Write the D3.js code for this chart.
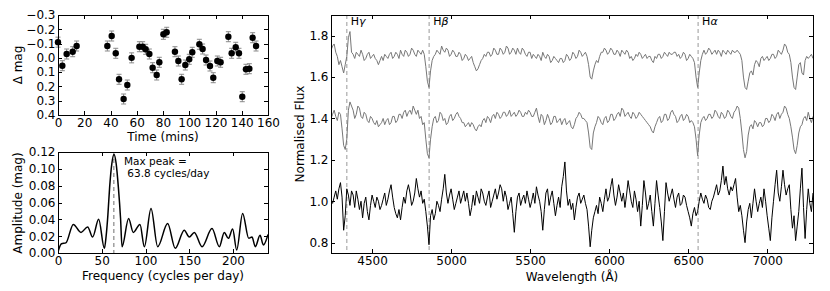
<!DOCTYPE html>
<html><head><meta charset="utf-8">
<script src="https://cdn.jsdelivr.net/npm/d3@7"></script>
<style>
body{margin:0;background:#fff}
svg{display:block}
text{font-family:"DejaVu Sans",sans-serif}
</style>
</head><body><svg id="c" width="830" height="291"></svg>
<script>
// ---------- Light curve ----------
const timeMins = [0, 3.3, 6.6, 11.2, 14.2, 37.6, 40.9, 44, 46.5, 50, 52.8, 56.1, 62, 64.5, 66.8, 69.6, 72.1, 75.2, 77.2, 80.3, 82.8, 89.1, 91.7, 94.2, 97, 100, 102.3, 107.7, 110.2, 112.8, 115.8, 118.3, 121.4, 123.9, 129.8, 132.3, 135.4, 137.9, 140.4, 143.2, 145.8, 148.3, 150.9];
const deltaMag = [-0.11, 0.055, -0.027, -0.043, -0.083, -0.083, -0.153, -0.032, 0.15, 0.288, 0.19, 0.0, -0.078, -0.078, -0.06, -0.027, 0.069, 0.12, 0.031, -0.165, -0.179, -0.043, 0.022, 0.15, 0.05, 0.01, -0.039, -0.095, -0.062, 0.015, 0.057, 0.139, 0.022, 0.031, -0.148, -0.032, -0.074, -0.032, 0.272, 0.08, 0.076, -0.141, -0.083];
const magErr = 0.035;
const timeTicks = [0, 20, 40, 60, 80, 100, 120, 140, 160];
const magTicks = [-0.3, -0.2, -0.1, 0.0, 0.1, 0.2, 0.3, 0.4];

// ---------- Periodogram ----------
const freq = [0, 4, 9, 17.5, 26.3, 33.9, 39.6, 46.5, 53, 55, 57, 59, 61.5, 64, 66.5, 69, 71.5, 73.2, 80.7, 86, 93.7, 98.7, 106.3, 113.9, 125.3, 134, 144.3, 150, 155.8, 164.6, 176, 184.4, 190, 194.7, 199.6, 204.2, 211, 218, 221.7, 225.5, 230.9, 234.7, 240];
const ampl = [0.0015, 0.011, 0.012, 0.034, 0.0245, 0.031, 0.019, 0.040, 0.0055, 0.02, 0.045, 0.078, 0.106, 0.117, 0.106, 0.078, 0.041, 0.0075, 0.041, 0.0245, 0.034, 0.0075, 0.053, 0.0075, 0.035, 0.0055, 0.027, 0.019, 0.0245, 0.0075, 0.029, 0.0075, 0.0245, 0.0174, 0.0285, 0.0036, 0.047, 0.0174, 0.019, 0.0075, 0.021, 0.0095, 0.022];
const maxPeak = 63.8;
const freqTicks = [0, 50, 100, 150, 200];
const ampTicks = [0, 0.02, 0.04, 0.06, 0.08, 0.10, 0.12];

// ---------- Spectra (sampled every 10 Å from 4240 Å) ----------
const wavelength = d3.range(4240, 7291, 10);
const fluxTop = [1.73,1.75,1.76,1.72,1.70,1.66,1.68,1.65,1.62,1.66,1.70,1.79,1.82,1.72,1.71,1.69,1.72,1.71,1.70,1.73,1.71,1.68,1.69,1.71,1.72,1.69,1.70,1.71,1.69,1.68,1.66,1.68,1.70,1.68,1.71,1.70,1.69,1.71,1.72,1.69,1.70,1.72,1.71,1.69,1.73,1.71,1.70,1.73,1.72,1.70,1.71,1.74,1.73,1.71,1.70,1.73,1.72,1.71,1.73,1.71,1.65,1.58,1.55,1.63,1.68,1.70,1.71,1.73,1.72,1.71,1.75,1.73,1.72,1.74,1.73,1.70,1.71,1.73,1.72,1.70,1.70,1.72,1.71,1.68,1.69,1.71,1.70,1.68,1.69,1.70,1.67,1.65,1.63,1.64,1.66,1.68,1.69,1.71,1.70,1.72,1.72,1.70,1.71,1.74,1.73,1.71,1.71,1.74,1.73,1.71,1.72,1.75,1.74,1.71,1.72,1.74,1.73,1.71,1.74,1.72,1.71,1.74,1.73,1.71,1.70,1.72,1.72,1.69,1.71,1.70,1.69,1.71,1.70,1.68,1.72,1.70,1.69,1.71,1.70,1.67,1.68,1.70,1.69,1.68,1.67,1.69,1.69,1.67,1.68,1.71,1.70,1.68,1.69,1.72,1.71,1.69,1.70,1.73,1.72,1.70,1.71,1.72,1.70,1.66,1.60,1.59,1.63,1.66,1.68,1.67,1.70,1.72,1.72,1.74,1.73,1.71,1.72,1.74,1.73,1.71,1.71,1.73,1.72,1.70,1.73,1.72,1.71,1.73,1.72,1.69,1.70,1.68,1.69,1.71,1.70,1.72,1.71,1.69,1.70,1.71,1.69,1.70,1.70,1.68,1.67,1.70,1.69,1.71,1.71,1.69,1.70,1.72,1.71,1.70,1.72,1.71,1.71,1.72,1.72,1.70,1.71,1.69,1.70,1.72,1.71,1.68,1.69,1.71,1.70,1.69,1.67,1.60,1.55,1.62,1.68,1.71,1.73,1.71,1.72,1.74,1.73,1.71,1.72,1.73,1.71,1.73,1.72,1.70,1.73,1.72,1.71,1.73,1.72,1.71,1.73,1.72,1.72,1.73,1.72,1.71,1.68,1.60,1.55,1.54,1.58,1.62,1.63,1.61,1.66,1.68,1.67,1.65,1.69,1.70,1.68,1.69,1.70,1.68,1.69,1.71,1.71,1.69,1.70,1.73,1.72,1.71,1.73,1.76,1.75,1.72,1.71,1.67,1.60,1.55,1.54,1.60,1.66,1.67,1.62,1.61,1.68,1.70,1.69,1.70,1.71,1.69];
const fluxMid = [1.40,1.42,1.44,1.41,1.39,1.43,1.42,1.35,1.27,1.25,1.30,1.44,1.48,1.46,1.44,1.40,1.42,1.46,1.45,1.41,1.40,1.43,1.42,1.39,1.38,1.41,1.40,1.38,1.37,1.39,1.36,1.37,1.38,1.40,1.37,1.39,1.40,1.37,1.38,1.41,1.41,1.38,1.39,1.42,1.42,1.40,1.43,1.44,1.41,1.43,1.44,1.42,1.46,1.44,1.42,1.44,1.40,1.41,1.37,1.38,1.30,1.23,1.21,1.30,1.36,1.40,1.41,1.38,1.39,1.43,1.42,1.39,1.40,1.37,1.38,1.41,1.42,1.39,1.40,1.42,1.43,1.41,1.40,1.38,1.38,1.36,1.37,1.38,1.36,1.38,1.37,1.35,1.34,1.36,1.37,1.36,1.39,1.40,1.38,1.41,1.40,1.38,1.41,1.42,1.40,1.43,1.42,1.40,1.41,1.43,1.43,1.41,1.42,1.44,1.41,1.42,1.43,1.41,1.42,1.44,1.43,1.41,1.41,1.43,1.42,1.44,1.43,1.41,1.41,1.43,1.45,1.41,1.38,1.42,1.41,1.37,1.39,1.42,1.40,1.37,1.38,1.41,1.41,1.38,1.39,1.40,1.37,1.39,1.40,1.37,1.38,1.39,1.36,1.35,1.37,1.40,1.41,1.43,1.42,1.40,1.40,1.39,1.38,1.33,1.26,1.25,1.33,1.36,1.38,1.41,1.40,1.38,1.37,1.40,1.41,1.38,1.39,1.42,1.42,1.39,1.40,1.42,1.43,1.41,1.45,1.44,1.41,1.42,1.43,1.41,1.40,1.43,1.42,1.40,1.41,1.43,1.42,1.41,1.40,1.39,1.38,1.37,1.36,1.34,1.33,1.36,1.38,1.40,1.41,1.38,1.39,1.42,1.42,1.39,1.40,1.43,1.44,1.42,1.41,1.38,1.39,1.41,1.42,1.39,1.40,1.42,1.41,1.38,1.39,1.38,1.36,1.30,1.22,1.32,1.38,1.40,1.41,1.39,1.40,1.42,1.42,1.40,1.41,1.44,1.43,1.41,1.40,1.43,1.42,1.40,1.41,1.44,1.43,1.41,1.40,1.43,1.44,1.46,1.45,1.40,1.33,1.25,1.21,1.24,1.32,1.36,1.37,1.35,1.39,1.38,1.36,1.38,1.38,1.36,1.37,1.40,1.40,1.38,1.39,1.42,1.41,1.39,1.42,1.43,1.40,1.42,1.43,1.46,1.45,1.42,1.40,1.36,1.31,1.25,1.23,1.27,1.33,1.36,1.37,1.40,1.41,1.39,1.43,1.40,1.38,1.41];
const fluxBottom = [1.00,0.99,1.02,1.05,1.01,1.06,1.09,1.02,0.86,0.93,1.06,1.03,0.98,1.05,1.03,0.97,1.05,1.01,0.96,1.00,0.92,0.99,1.02,0.95,0.91,0.98,1.03,1.00,0.97,1.02,1.00,0.96,0.98,1.01,1.04,0.98,1.01,1.05,1.08,1.02,0.97,0.94,0.92,0.96,0.91,0.97,1.02,0.99,1.05,1.08,1.04,0.98,1.00,1.04,1.11,1.06,1.02,1.05,0.99,1.01,0.95,0.88,0.79,0.93,0.96,0.91,0.94,1.00,0.98,0.95,1.01,1.06,1.13,1.04,0.99,1.03,1.06,1.01,0.96,0.99,1.02,1.05,0.99,1.02,1.05,1.00,1.04,0.99,0.93,0.97,1.03,0.98,1.05,1.02,0.99,1.06,1.04,1.00,0.98,1.02,1.05,0.97,1.00,1.03,1.06,1.01,1.04,1.08,1.06,1.00,1.05,1.02,0.96,0.99,1.02,0.94,0.85,0.95,1.02,1.04,0.98,1.01,1.03,0.99,1.05,1.01,0.97,1.00,1.04,0.99,1.07,1.03,1.00,0.95,0.86,0.96,1.04,1.06,0.98,1.02,1.05,0.99,0.93,0.98,1.02,0.97,1.07,1.12,1.19,1.05,0.98,1.01,0.96,0.99,0.91,0.97,1.02,1.04,0.99,1.01,1.03,0.99,0.96,0.88,0.78,0.86,0.92,0.95,0.98,0.94,1.02,0.99,0.95,1.01,1.06,1.00,1.02,1.07,1.11,1.03,0.98,1.02,1.08,1.04,1.00,1.04,0.97,1.03,1.10,1.05,1.00,0.97,1.05,1.01,0.95,1.00,0.88,0.98,1.10,1.04,0.96,0.99,1.03,0.95,0.88,0.99,1.10,1.03,0.97,0.90,0.81,0.95,1.09,1.04,1.00,1.03,1.06,1.01,0.97,1.02,1.04,0.98,0.99,1.03,1.02,0.98,0.95,0.92,0.88,0.94,0.97,0.93,0.95,1.00,1.04,1.01,0.99,1.03,1.01,0.97,0.96,1.00,1.02,1.05,1.08,1.03,1.05,1.10,1.17,1.08,1.12,1.06,1.03,1.07,1.05,1.08,1.11,1.02,0.95,0.98,0.93,0.86,0.80,0.90,0.96,0.99,0.92,0.99,1.06,1.00,0.95,0.99,1.02,0.97,1.06,1.00,0.93,0.87,0.81,0.92,1.00,1.08,1.15,1.04,1.00,1.07,1.15,1.08,1.03,1.06,1.08,0.96,0.87,0.93,0.81,0.88,0.95,1.06,1.16,0.97,0.82,0.96,1.06,0.99,0.95,1.04];
const balmerNames = ["γ", "β", "α"];
const balmerWave = [4340, 4861, 6563];
const waveTicks = [4500, 5000, 5500, 6000, 6500, 7000];
const fluxTicks = [0.8, 1.0, 1.2, 1.4, 1.6, 1.8];

// ---------- drawing ----------
const svg = d3.select("#c");
const FS = 12;

function frame(box, x, y, xTicks, yTicks, xFmt, yFmt) {
  const g = svg.append("g");
  const style = sel => {
    sel.select(".domain").remove();
    sel.attr("font-size", FS).attr("font-family", "DejaVu Sans, sans-serif");
    sel.selectAll("line").attr("stroke", "#000").attr("shape-rendering", "crispEdges");
    sel.selectAll("text").attr("fill", "#000");
  };
  g.append("g").attr("transform", `translate(0,${box.b})`)
    .call(d3.axisBottom(x).tickValues(xTicks).tickFormat(xFmt).tickSizeInner(-4).tickSizeOuter(0).tickPadding(3.5)).call(style);
  g.append("g").attr("transform", `translate(0,${box.t})`)
    .call(d3.axisTop(x).tickValues(xTicks).tickFormat("").tickSizeInner(-4).tickSizeOuter(0)).call(style);
  g.append("g").attr("transform", `translate(${box.l},0)`)
    .call(d3.axisLeft(y).tickValues(yTicks).tickFormat(yFmt).tickSizeInner(-4).tickSizeOuter(0).tickPadding(2.5)).call(style);
  g.append("g").attr("transform", `translate(${box.r},0)`)
    .call(d3.axisRight(y).tickValues(yTicks).tickFormat("").tickSizeInner(-4).tickSizeOuter(0)).call(style);
  g.append("rect").attr("x", box.l).attr("y", box.t).attr("width", box.r - box.l).attr("height", box.b - box.t)
    .attr("fill", "none").attr("stroke", "#000").attr("stroke-width", 1).attr("shape-rendering", "crispEdges");
  return g;
}
function clip(id, box) {
  svg.append("clipPath").attr("id", id).append("rect")
    .attr("x", box.l).attr("y", box.t).attr("width", box.r - box.l).attr("height", box.b - box.t);
}
function ylabel(txt, x, y) {
  svg.append("text").attr("transform", `translate(${x},${y}) rotate(-90)`).attr("text-anchor", "middle")
    .attr("font-size", FS).text(txt);
}
function xlabel(txt, x, y) {
  svg.append("text").attr("x", x).attr("y", y).attr("text-anchor", "middle").attr("font-size", FS).text(txt);
}

// Panel 1: light curve
const b1 = {l: 58, r: 268, t: 15, b: 115};
const x1 = d3.scaleLinear().domain([0, 160]).range([b1.l, b1.r]);
const y1 = d3.scaleLinear().domain([-0.3, 0.4]).range([b1.t, b1.b]);
const pts = timeMins.map((t, i) => ({t, m: deltaMag[i]}));
const eb = svg.append("g").attr("stroke", "#8a8a8a").attr("stroke-width", 1);
pts.forEach(p => {
  const cx = x1(p.t), top = y1(p.m - magErr), bot = y1(p.m + magErr);
  eb.append("line").attr("x1", cx).attr("x2", cx).attr("y1", top).attr("y2", bot);
  eb.append("line").attr("x1", cx - 2.5).attr("x2", cx + 2.5).attr("y1", top).attr("y2", top);
  eb.append("line").attr("x1", cx - 2.5).attr("x2", cx + 2.5).attr("y1", bot).attr("y2", bot);
});
svg.append("g").selectAll("circle").data(pts).join("circle")
  .attr("cx", d => x1(d.t)).attr("cy", d => y1(d.m)).attr("r", 3.2).attr("fill", "#000");
frame(b1, x1, y1, timeTicks, magTicks, d3.format("d"), d3.format(".1f"));
ylabel("Δ mag", 22, 65);
xlabel("Time (mins)", 163, 141);

// Panel 2: periodogram
const b2 = {l: 58, r: 268, t: 152, b: 253};
const x2 = d3.scaleLinear().domain([0, 240]).range([b2.l, b2.r]);
const y2 = d3.scaleLinear().domain([0, 0.12]).range([b2.b, b2.t]);
clip("c2", b2);
svg.append("line").attr("x1", x2(maxPeak)).attr("x2", x2(maxPeak)).attr("y1", b2.t).attr("y2", b2.b)
  .attr("stroke", "#888").attr("stroke-width", 1.2).attr("stroke-dasharray", "4,3");
svg.append("path").datum(freq.map((f, i) => [f, ampl[i]]))
  .attr("clip-path", "url(#c2)")
  .attr("d", d3.line().x(d => x2(d[0])).y(d => y2(d[1])).curve(d3.curveMonotoneX))
  .attr("fill", "none").attr("stroke", "#000").attr("stroke-width", 1.5);
frame(b2, x2, y2, freqTicks, ampTicks, d3.format("d"), d3.format(".2f"));
svg.append("text").attr("x", 124).attr("y", 165).attr("font-size", 10.5).text("Max peak =");
svg.append("text").attr("x", 124).attr("y", 177).attr("font-size", 10.5).attr("xml:space", "preserve").text(" " + maxPeak.toFixed(1) + " cycles/day");
ylabel("Amplitude (mag)", 22, 203);
xlabel("Frequency (cycles per day)", 163, 280);

// Panel 3: spectra
const b3 = {l: 331, r: 813, t: 15, b: 253};
const x3 = d3.scaleLinear().domain([4240, 7290]).range([b3.l, b3.r]);
const y3 = d3.scaleLinear().domain([0.75, 1.9]).range([b3.b, b3.t]);
clip("c3", b3);
balmerWave.forEach((w, i) => {
  svg.append("line").attr("x1", x3(w)).attr("x2", x3(w)).attr("y1", b3.t).attr("y2", b3.b)
    .attr("stroke", "#aaa").attr("stroke-width", 1.2).attr("stroke-dasharray", "4,3");
  const t = svg.append("text").attr("x", x3(w) + 4).attr("y", 25).attr("font-size", 11);
  t.append("tspan").text("H");
  t.append("tspan").attr("font-style", "italic").text(balmerNames[i]);
});
const line3 = d3.line().x(d => x3(d[0])).y(d => y3(d[1]));
[[fluxTop, "#777"], [fluxMid, "#777"], [fluxBottom, "#000"]].forEach(([f, col]) => {
  const n = Math.min(f.length, wavelength.length);
  svg.append("path").datum(wavelength.slice(0, n).map((w, i) => [w, f[i]]))
    .attr("clip-path", "url(#c3)").attr("d", line3)
    .attr("fill", "none").attr("stroke", col).attr("stroke-width", 1);
});
frame(b3, x3, y3, waveTicks, fluxTicks, d3.format("d"), d3.format(".1f"));
ylabel("Normalised Flux", 304, 134);
xlabel("Wavelength (Å)", 572, 281);
</script>
</body></html>
